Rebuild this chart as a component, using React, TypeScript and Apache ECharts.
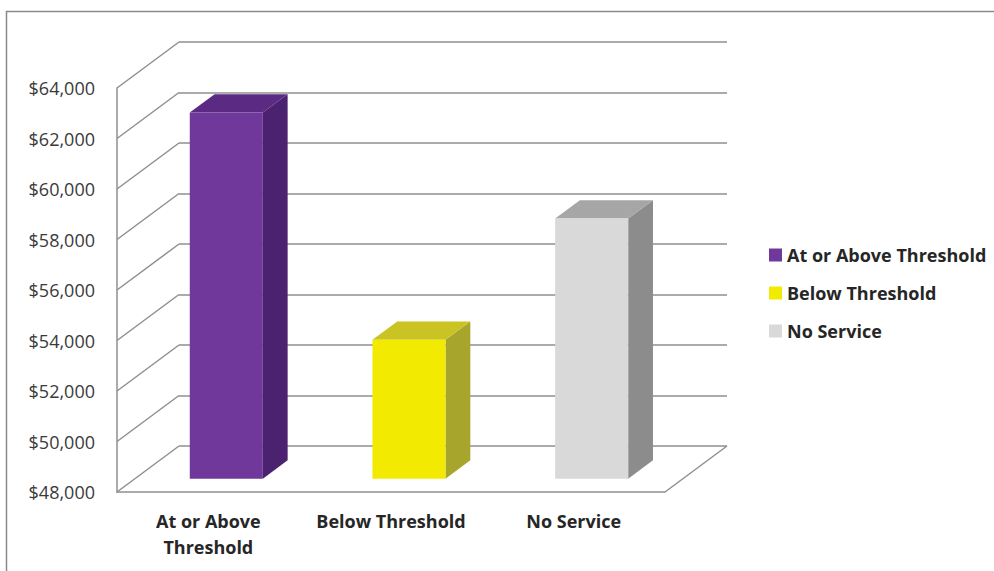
import React, { useEffect, useRef } from "react";
import * as echarts from "echarts";

const categories = ["At or Above Threshold", "Below Threshold", "No Service"];
const xLabels = ["At or Above\nThreshold", "Below Threshold", "No Service"];
const values = [62500, 53500, 58300];
const yTicks = [48000, 50000, 52000, 54000, 56000, 58000, 60000, 62000, 64000];

const frontColors = ["#70389A", "#F2EA00", "#D9D9D9"];
const sideColors = ["#4A2270", "#A8A52C", "#8C8C8C"];
const topColors = ["#5B2A82", "#C9C423", "#A6A6A6"];

const FONT = "'Open Sans', 'Noto Sans', sans-serif";
const LINE = "#8f8f8f";
const DEPTH_X = 62;
const DEPTH_Y = -46;
const FRONT = { left: 117, top: 88, width: 548, height: 404 };

export default function App() {
  const ref = useRef<HTMLDivElement>(null);
  useEffect(() => {
    if (!ref.current) return;
    const chart = echarts.init(ref.current, null, { renderer: "svg" });

    const barSeries = categories.map((name, i) => ({
      type: "custom",
      name,
      xAxisIndex: 0,
      yAxisIndex: 0,
      itemStyle: { color: frontColors[i] },
      data: [[i, values[i]]],
      z: 5,
      renderItem: (params: any, api: any) => {
        const idx = api.value(0);
        const base = api.coord([idx, yTicks[0]]);
        const top = api.coord([idx, api.value(1)]);
        const catW = api.size([1, 0])[0];
        const w = catW * 0.4;
        const ox = DEPTH_X * 0.29;
        const oy = DEPTH_Y * 0.29;
        const dx = DEPTH_X * 0.4;
        const dy = DEPTH_Y * 0.4;
        const x0 = base[0] - w / 2 + ox;
        const x1 = x0 + w;
        const yb = base[1] + oy;
        const yt = top[1] + oy;
        return {
          type: "group",
          children: [
            {
              type: "polygon",
              shape: { points: [[x1, yt], [x1 + dx, yt + dy], [x1 + dx, yb + dy], [x1, yb]] },
              style: { fill: sideColors[i] },
            },
            {
              type: "polygon",
              shape: { points: [[x0, yt], [x1, yt], [x1 + dx, yt + dy], [x0 + dx, yt + dy]] },
              style: { fill: topColors[i] },
            },
            {
              type: "rect",
              shape: { x: x0, y: yt, width: w, height: yb - yt },
              style: { fill: frontColors[i] },
            },
          ],
        };
      },
    }));

    const option: any = {
      animation: false,
      backgroundColor: "#ffffff",
      grid: [
        { left: FRONT.left, top: FRONT.top, width: FRONT.width, height: FRONT.height },
        {
          left: FRONT.left + DEPTH_X,
          top: FRONT.top + DEPTH_Y,
          width: FRONT.width,
          height: FRONT.height,
        },
      ],
      xAxis: [
        {
          type: "category",
          gridIndex: 0,
          data: xLabels,
          axisLine: { show: true, lineStyle: { color: LINE, width: 1.5 } },
          axisTick: { show: false },
          axisLabel: {
            fontFamily: FONT,
            fontSize: 18,
            fontWeight: "bold",
            color: "#262626",
            lineHeight: 26,
            margin: 16,
            interval: 0,
          },
        },
        { type: "category", gridIndex: 1, data: xLabels, show: false },
      ],
      yAxis: [
        {
          type: "value",
          gridIndex: 0,
          min: 48000,
          max: 64000,
          interval: 2000,
          axisLine: { show: true, lineStyle: { color: LINE, width: 1.5 } },
          axisTick: { show: false },
          splitLine: { show: false },
          axisLabel: {
            fontFamily: FONT,
            fontSize: 18,
            color: "#3a3a3a",
            margin: 22,
            formatter: (v: number) => "$" + v.toLocaleString("en-US"),
          },
        },
        {
          type: "value",
          gridIndex: 1,
          min: 48000,
          max: 64000,
          interval: 2000,
          axisLine: { show: false },
          axisTick: { show: false },
          axisLabel: { show: false },
          splitLine: { show: true, lineStyle: { color: LINE, width: 1.5 } },
        },
      ],
      legend: {
        orient: "vertical",
        left: 769,
        top: 246,
        padding: 0,
        itemWidth: 13,
        itemHeight: 13,
        itemGap: 20,
        icon: "rect",
        data: categories.map((name, i) => ({ name, itemStyle: { color: frontColors[i] } })),
        textStyle: {
          fontFamily: FONT,
          fontSize: 18,
          fontWeight: "bold",
          color: "#262626",
          lineHeight: 18,
        },
      },
      graphic: [
        {
          type: "rect",
          shape: { x: 6.5, y: 11.5, width: 1100, height: 700 },
          style: { fill: "none", stroke: "#8a8a8a", lineWidth: 1.5 },
          silent: true,
        },
      ],
      series: [
        {
          type: "custom",
          name: "wall",
          xAxisIndex: 0,
          yAxisIndex: 0,
          data: yTicks.map((t) => [0, t]),
          silent: true,
          z: 1,
          renderItem: (params: any, api: any) => {
            const cs = params.coordSys;
            const p = api.coord([0, api.value(1)]);
            return {
              type: "line",
              shape: { x1: cs.x, y1: p[1], x2: cs.x + DEPTH_X, y2: p[1] + DEPTH_Y },
              style: { stroke: LINE, lineWidth: 1.5 },
            };
          },
        },
        {
          type: "custom",
          name: "floor",
          xAxisIndex: 0,
          yAxisIndex: 0,
          data: [[categories.length - 1, yTicks[0]]],
          silent: true,
          z: 1,
          renderItem: (params: any, api: any) => {
            const cs = params.coordSys;
            const y = api.coord([0, api.value(1)])[1];
            const x = cs.x + cs.width;
            return {
              type: "line",
              shape: { x1: x, y1: y, x2: x + DEPTH_X, y2: y + DEPTH_Y },
              style: { stroke: LINE, lineWidth: 1.5 },
            };
          },
        },
        ...barSeries,
      ],
    };
    chart.setOption(option);
    return () => chart.dispose();
  }, []);
  return (
    <div
      ref={ref}
      style={{ position: "fixed", left: 0, top: 0, width: 994, height: 571, background: "#fff" }}
    />
  );
}
